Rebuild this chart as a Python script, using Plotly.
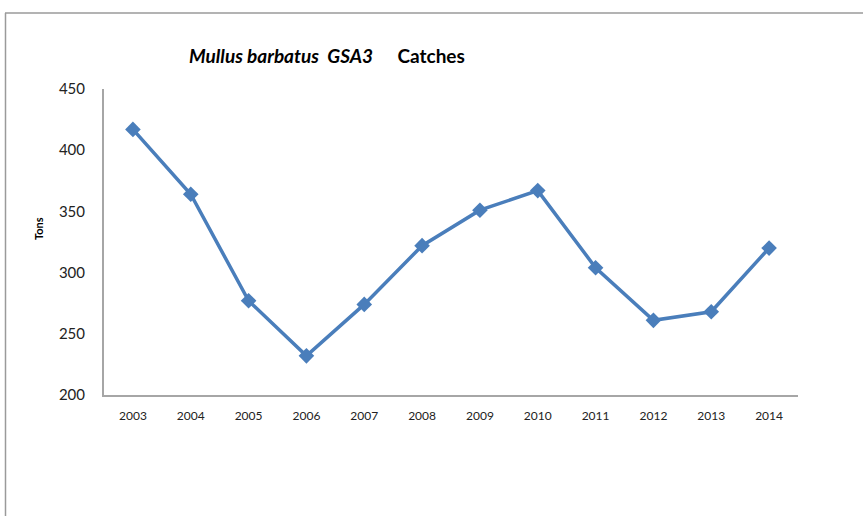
import plotly.graph_objects as go

years = ["2003", "2004", "2005", "2006", "2007", "2008", "2009", "2010", "2011", "2012", "2013", "2014"]
catches = [417, 364, 277, 232, 274, 322, 351, 367, 304, 261, 268, 320]
y_ticks = [200, 250, 300, 350, 400, 450]

W, H = 863, 516
L, T = 104, 89
R = W - 798
B = H - 395
pw, ph = W - L - R, H - T - B


def px(xp):
    return (xp - L) / pw


def py(yp):
    return (H - B - yp) / ph


fig = go.Figure()
fig.add_trace(go.Scatter(
    x=years, y=catches, mode="lines+markers",
    line=dict(color="#4a7ebb", width=3.5),
    marker=dict(symbol="diamond", size=12, color="#4a7ebb"),
    showlegend=False, hoverinfo="x+y",
))

fig.update_layout(
    width=W, height=H,
    margin=dict(l=L, r=R, t=T, b=B),
    paper_bgcolor="white", plot_bgcolor="white",
    font=dict(family="Lato, Open Sans, sans-serif", color="#222"),
    xaxis=dict(type="category", range=[-0.5, 11.5], showgrid=False, zeroline=False,
               showline=True, linecolor="#a6a6a6", linewidth=2, ticks="",
               tickfont=dict(size=12, color="#222"), ticklabelstandoff=9),
    yaxis=dict(range=[200, 450], tickvals=y_ticks, showgrid=False, zeroline=False,
               showline=True, linecolor="#a6a6a6", linewidth=2, ticks="",
               tickfont=dict(size=15, color="#222"), ticklabelstandoff=14),
    annotations=[
        dict(text="<b><i>Mullus barbatus  GSA3</i></b>     <b>Catches</b>",
             xref="paper", yref="paper", x=px(327), y=py(56),
             xanchor="center", yanchor="middle", showarrow=False,
             font=dict(size=19, color="#000")),
        dict(text="<b>Tons</b>", textangle=-90,
             xref="paper", yref="paper", x=px(38), y=py(229),
             xanchor="center", yanchor="middle", showarrow=False,
             font=dict(size=11, color="#000")),
    ],
    shapes=[
        dict(type="line", xref="paper", yref="paper",
             x0=px(5), x1=px(880), y0=py(13), y1=py(13),
             line=dict(color="#9a9a9a", width=1.5)),
        dict(type="line", xref="paper", yref="paper",
             x0=px(5.5), x1=px(5.5), y0=py(13), y1=py(540),
             line=dict(color="#9a9a9a", width=1.5)),
    ],
)

fig.write_html("out.html", config={"displayModeBar": False},
               post_script="document.body.style.margin='0';document.body.style.overflow='hidden';")
